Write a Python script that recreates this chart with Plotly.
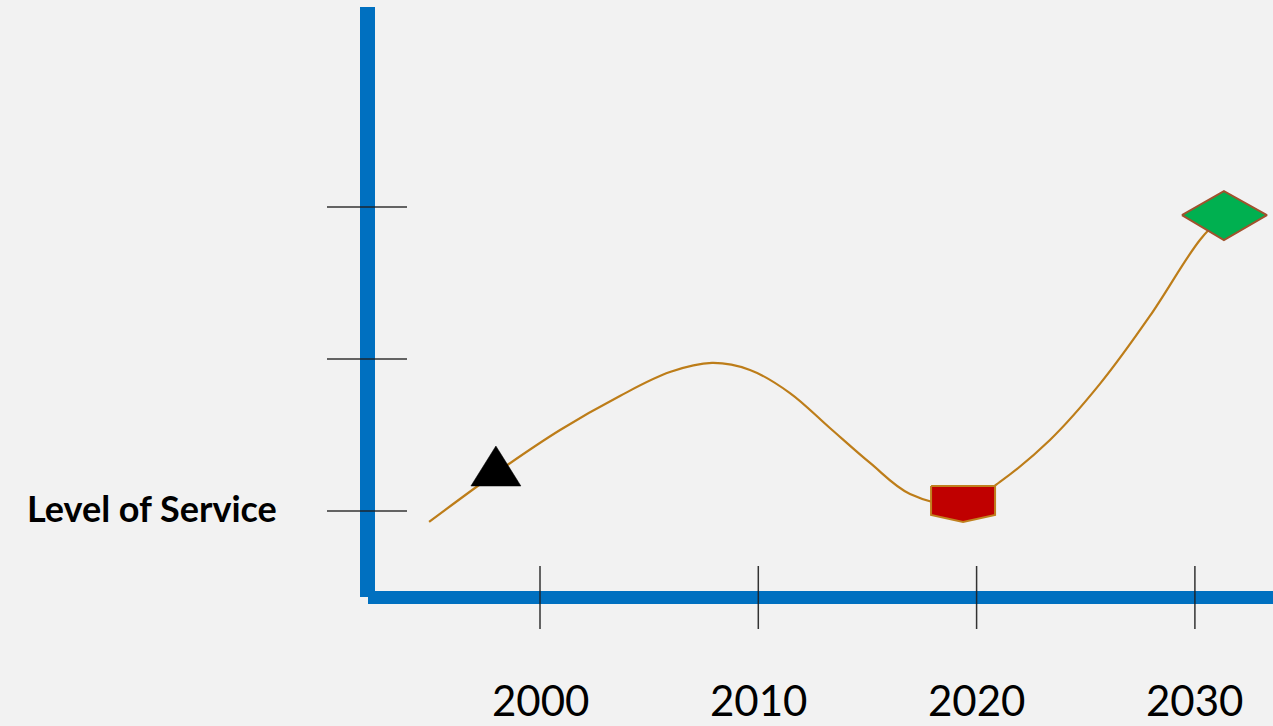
import plotly.graph_objects as go

# ---- data ----
curve_years = [1994.92, 1997.98, 2000.92, 2003.66, 2005.95, 2007.88, 2009.62, 2011.45,
               2013.28, 2015.12, 2016.95, 2019.38, 2021.07, 2023.36, 2025.65, 2027.94,
               2030.23, 2031.33]
curve_levels = [0.928, 1.25, 1.533, 1.757, 1.914, 1.974, 1.928, 1.776,
                1.546, 1.316, 1.112, 1.039, 1.191, 1.467, 1.836, 2.283,
                2.783, 2.947]
marker_years = [1997.98, 2019.38, 2031.33]
marker_levels = [1.25, 1.053, 2.947]
x_tick_years = [2000, 2010, 2020, 2030]
x_tick_labels = ["2000", "2010", "2020", "2030"]
y_tick_levels = [1, 2, 3]
y_label = "Level of Service"

# ---- layout geometry (style) ----
W, H = 1273, 726
PX_PER_YEAR = 21.83
PX_YEAR2000 = 540.0
PX_PER_LEVEL = 152.0
PX_LEVEL1 = 511.0
X_RANGE = [2000 - PX_YEAR2000 / PX_PER_YEAR, 2000 + (W - PX_YEAR2000) / PX_PER_YEAR]
Y_RANGE = [1 - (H - PX_LEVEL1) / PX_PER_LEVEL, 1 + PX_LEVEL1 / PX_PER_LEVEL]

BG = "#F2F2F2"
BLUE = "#0070C0"
CURVE = "#BD7D19"


def poly(cx, cy, offsets):
    xs = [cx + dx / PX_PER_YEAR for dx, dy in offsets]
    ys = [cy - dy / PX_PER_LEVEL for dx, dy in offsets]
    return xs + xs[:1], ys + ys[:1]


marker_shapes = [
    [(0, -27), (25, 13), (-25, 13)],                          # triangle
    [(-32, -17), (32, -17), (32, 12), (0, 19), (-32, 12)],    # shield
    [(-42, 0), (0, -24), (43, 0), (0, 25)],                   # diamond
]
marker_fills = ["#000000", "#C00000", "#00B050"]
marker_lines = ["#000000", "#C0801E", "#A0522D"]
marker_lw = [0.5, 2, 2]

fig = go.Figure()
fig.add_trace(go.Scatter(x=curve_years, y=curve_levels, mode="lines",
                         line=dict(color=CURVE, width=2.2, shape="spline", smoothing=1.0),
                         hoverinfo="skip", showlegend=False))
for i in range(3):
    xs, ys = poly(marker_years[i], marker_levels[i], marker_shapes[i])
    fig.add_trace(go.Scatter(x=xs, y=ys, mode="lines", fill="toself",
                             fillcolor=marker_fills[i],
                             line=dict(color=marker_lines[i], width=marker_lw[i]),
                             hoverinfo="skip", showlegend=False))

shapes = []
# axis lines (pixel-positioned via paper)
shapes.append(dict(type="line", xref="paper", yref="paper",
                   x0=367.5 / W, x1=367.5 / W, y0=1 - 7 / H, y1=1 - 597 / H,
                   line=dict(color=BLUE, width=15)))
shapes.append(dict(type="line", xref="paper", yref="paper",
                   x0=368 / W, x1=1.01, y0=1 - 597.5 / H, y1=1 - 597.5 / H,
                   line=dict(color=BLUE, width=13)))
# tick marks
for yv in y_tick_levels:
    shapes.append(dict(type="line", xref="paper", yref="y",
                       x0=327 / W, x1=407 / W, y0=yv, y1=yv,
                       line=dict(color="rgba(30,30,30,0.9)", width=1.5)))
for xv in x_tick_years:
    shapes.append(dict(type="line", xref="x", yref="paper",
                       x0=xv, x1=xv, y0=1 - 566 / H, y1=1 - 629 / H,
                       line=dict(color="rgba(30,30,30,0.9)", width=1.5)))

annotations = []
for xv, lab in zip(x_tick_years, x_tick_labels):
    annotations.append(dict(x=xv, y=1 - 700 / H, xref="x", yref="paper",
                            text=lab, showarrow=False, xanchor="center", yanchor="middle",
                            font=dict(family="Lato", size=42, color="#000000")))
annotations.append(dict(x=151.5 / W, y=1, xref="paper", yref="y", yshift=3,
                        text="<b>" + y_label + "</b>", showarrow=False,
                        xanchor="center", yanchor="middle",
                        font=dict(family="Lato", size=36, color="#000000")))

fig.update_layout(
    width=W, height=H, autosize=False,
    margin=dict(l=0, r=0, t=0, b=0, pad=0),
    paper_bgcolor=BG, plot_bgcolor=BG,
    xaxis=dict(range=X_RANGE, visible=False, fixedrange=True),
    yaxis=dict(range=Y_RANGE, visible=False, fixedrange=True),
    shapes=shapes, annotations=annotations, showlegend=False,
)
fig.write_html("out.html", config={"displayModeBar": False})
